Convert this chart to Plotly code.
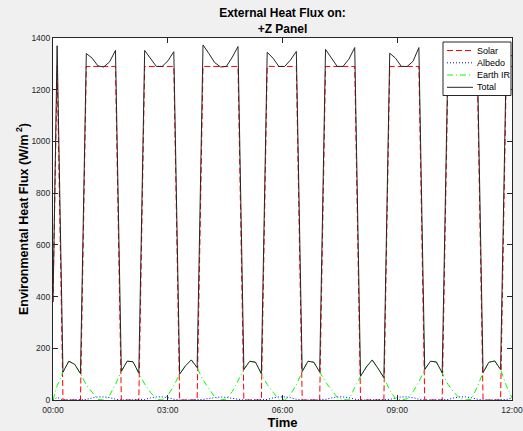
import plotly.graph_objects as go

# ---- data (minutes from 00:00, W/m^2) ----
time_min = [0, 6.5, 15.65, 24.8, 33.96, 43.1, 52.26, 61.41, 70.56, 79.7,
            88.87, 98.0, 107.2, 116.3, 125.5, 134.6, 143.8, 152.9, 162.1, 171.2,
            180.4, 189.5, 198.7, 207.8, 217.0, 226.1, 235.3, 244.5, 253.6, 262.8,
            271.9, 281.1, 290.2, 299.4, 308.5, 317.7, 326.8, 336.0, 345.1, 354.3,
            363.4, 372.6, 381.7, 390.9, 400.0, 409.2, 418.3, 427.5, 436.6, 445.8,
            454.9, 464.1, 473.3, 482.4, 491.6, 500.7, 509.9, 519.0, 528.2, 537.3,
            546.5, 555.6, 564.8, 573.9, 583.1, 592.2, 601.4, 610.5, 619.7, 628.8,
            638.0, 647.1, 656.3, 665.4, 674.6, 683.7, 692.9, 702.1, 711.2, 720.0]

solar = [380, 1290,
         0, 0, 0, 0,
         1290, 1290, 1290, 1290, 1290, 1290,
         0, 0, 0, 0,
         1290, 1290, 1290, 1290, 1290, 1290,
         0, 0, 0, 0,
         1290, 1290, 1290, 1290, 1290, 1290, 1290,
         0, 0, 0, 0,
         1290, 1290, 1290, 1290, 1290, 1290,
         0, 0, 0, 0,
         1290, 1290, 1290, 1290, 1290, 1290,
         0, 0, 0, 0, 0,
         1290, 1290, 1290, 1290, 1290, 1290,
         0, 0, 0, 0,
         1290, 1290, 1290, 1290, 1290, 1290,
         0, 0, 0, 0,
         1290, 1290]

albedo = [0, 10,
          0, 0, 0, 0,
          2, 8, 12, 12, 9, 3,
          0, 0, 0, 0,
          2, 8, 12, 12, 9, 3,
          0, 0, 0, 0,
          2, 6, 10, 12, 10, 7, 3,
          0, 0, 0, 0,
          2, 8, 12, 12, 9, 3,
          0, 0, 0, 0,
          2, 8, 12, 12, 9, 3,
          0, 0, 0, 0, 0,
          2, 8, 12, 12, 9, 3,
          0, 0, 0, 0,
          2, 8, 12, 12, 9, 3,
          0, 0, 0, 0,
          2, 8]

earth_ir = [0, 55,
            108, 150, 138, 102,
            58, 28, 2, 0, 18, 60,
            111, 150, 148, 104,
            62, 30, 3, 0, 18, 56,
            100, 132, 155, 125,
            78, 44, 12, 0, 4, 32, 72,
            118, 150, 146, 102,
            60, 30, 3, 0, 22, 58,
            110, 150, 146, 108,
            70, 40, 10, 2, 0, 48,
            92, 128, 155, 122, 86,
            38, 5, 0, 5, 32, 70,
            118, 150, 147, 105,
            60, 30, 6, 0, 3, 50,
            106, 146, 151, 118,
            55, 8]

total = [380, 1370,
         108, 150, 138, 102,
         1340, 1322, 1292, 1288, 1308, 1352,
         111, 150, 148, 104,
         1352, 1322, 1290, 1290, 1312, 1347,
         100, 132, 155, 125,
         1373, 1340, 1305, 1288, 1290, 1325, 1367,
         118, 150, 146, 102,
         1345, 1322, 1290, 1290, 1315, 1348,
         110, 150, 146, 108,
         1356, 1325, 1290, 1290, 1318, 1363,
         92, 128, 155, 122, 86,
         1341, 1322, 1290, 1290, 1310, 1363,
         118, 150, 147, 105,
         1345, 1320, 1290, 1290, 1312, 1355,
         106, 146, 151, 118,
         1348, 1330]

x_tick_vals = [0, 180, 360, 540, 720]
x_tick_text = ["00:00", "03:00", "06:00", "09:00", "12:00"]
y_tick_vals = [0, 200, 400, 600, 800, 1000, 1200, 1400]

series_names = ["Solar", "Albedo", "Earth IR", "Total"]
series_colors = ["#ff0000", "#0000ff", "#00ff00", "#262626"]
series_dash = ["6px,3px", "1px,2px", "6px,3px,1px,3px", "solid"]

# ---- figure ----
fig = go.Figure()
for name, vals, col, dsh in zip(series_names, [solar, albedo, earth_ir, total],
                                series_colors, series_dash):
    fig.add_trace(go.Scatter(x=time_min, y=vals, mode="lines", name=name,
                             line=dict(color=col, width=1, dash=dsh),
                             showlegend=False))

FONT = "Liberation Sans, Arial, Helvetica, sans-serif"
axis_common = dict(showline=True, linecolor="#262626", linewidth=1, mirror="ticks",
                   ticks="inside", ticklen=5, tickcolor="#262626", tickwidth=1,
                   showgrid=False, zeroline=False, automargin=False,
                   ticklabeloverflow="allow",
                   tickfont=dict(family=FONT, size=8.5, color="#262626"))

fig.update_layout(
    width=523, height=431,
    margin=dict(l=53, r=11, t=38, b=31),
    paper_bgcolor="#f0f0f0", plot_bgcolor="#ffffff",
    title=dict(text="External Heat Flux on:<br>+Z Panel",
               font=dict(family=FONT, size=12, color="#000000", weight="bold"),
               x=0.5, xref="paper", xanchor="center",
               y=1 - 17 / 431, yref="container", yanchor="middle"),
    xaxis=dict(range=[0, 720], tickvals=x_tick_vals, ticktext=x_tick_text,
               ticklabelstandoff=2,
               title=dict(text="Time", standoff=1,
                          font=dict(family=FONT, size=13, color="#000000", weight="bold")),
               **axis_common),
    yaxis=dict(range=[0, 1400], tickvals=y_tick_vals,
               title=dict(text="Environmental Heat Flux (W/m<sup> 2</sup>)", standoff=0,
                          font=dict(family=FONT, size=12.5, color="#000000", weight="bold")),
               **axis_common),
)

# ---- legend box drawn in paper coordinates ----
def px_x(p):
    return (p - 53) / 459.0

def px_y(p):
    return (400 - p) / 362.0

shapes = [dict(type="rect", xref="paper", yref="paper",
               x0=px_x(443), x1=px_x(511), y0=px_y(95.5), y1=px_y(42),
               fillcolor="#ffffff", line=dict(color="#262626", width=1), layer="above")]
annotations = []
row_y = [50.5, 62.8, 75.0, 87.3]
for name, col, dsh, ry in zip(series_names, series_colors, series_dash, row_y):
    shapes.append(dict(type="line", xref="paper", yref="paper",
                       x0=px_x(447), x1=px_x(473), y0=px_y(ry), y1=px_y(ry),
                       line=dict(color=col, width=1, dash=dsh), layer="above"))
    annotations.append(dict(text=name, xref="paper", yref="paper",
                            x=px_x(475), y=px_y(ry), xanchor="left", yanchor="middle",
                            showarrow=False,
                            font=dict(family=FONT, size=9, color="#000000")))
fig.update_layout(shapes=shapes, annotations=annotations)

fig.write_html("out.html",
               config={"displayModeBar": False},
               post_script="document.body.style.margin='0px';"
                           "document.body.style.overflow='hidden';")
